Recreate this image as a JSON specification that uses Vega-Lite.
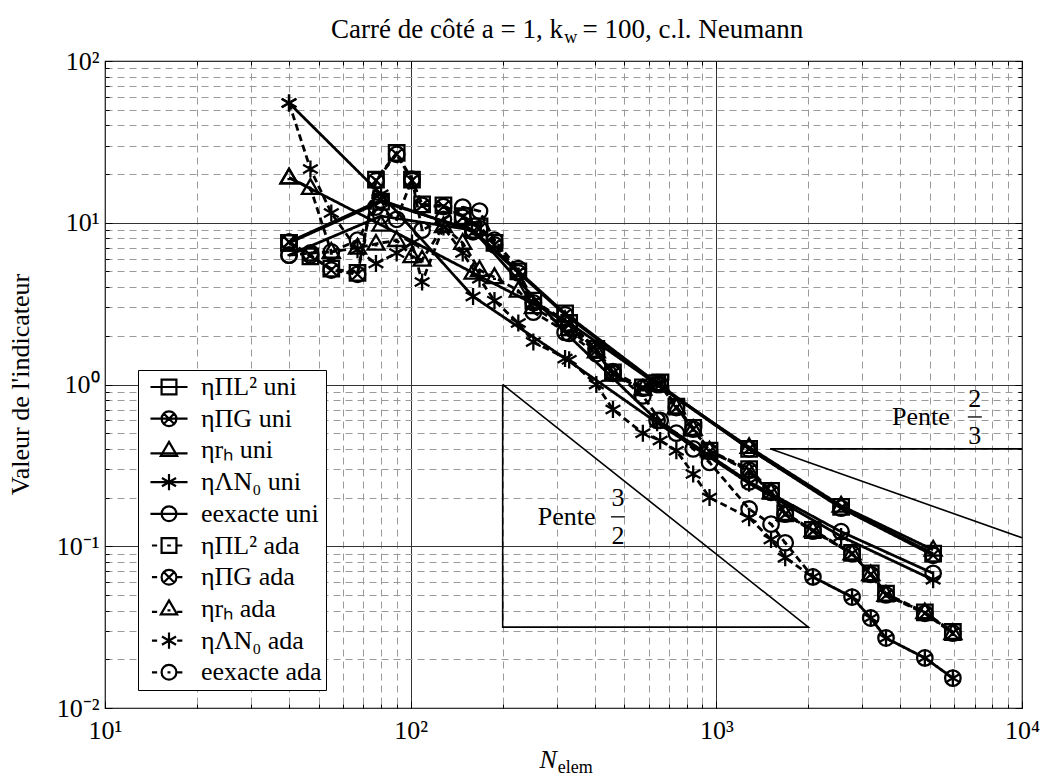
{
 "$schema": "https://vega.github.io/schema/vega-lite/v6.json",
 "width": 917, "height": 647,
 "autosize": {"type": "none"},
 "padding": {"left": 105, "top": 61, "right": 21, "bottom": 72},
 "background": "white",
 "config": {"view": {"stroke": "black", "strokeWidth": 1.2}, "font": "Liberation Serif", "legend": {"labelFont": "Liberation Serif"}},
 "datasets": {
  "series": [
   {"s":"ηΠL² uni","m":"uni","N":40,"v":7.5},{"s":"ηΠL² uni","m":"uni","N":80,"v":13.5},{"s":"ηΠL² uni","m":"uni","N":160,"v":9.0},{"s":"ηΠL² uni","m":"uni","N":320,"v":2.75},{"s":"ηΠL² uni","m":"uni","N":640,"v":1.02},{"s":"ηΠL² uni","m":"uni","N":1280,"v":0.40},{"s":"ηΠL² uni","m":"uni","N":2560,"v":0.175},{"s":"ηΠL² uni","m":"uni","N":5120,"v":0.090},
   {"s":"ηΠG uni","m":"uni","N":40,"v":7.6},{"s":"ηΠG uni","m":"uni","N":80,"v":13.8},{"s":"ηΠG uni","m":"uni","N":160,"v":8.8},{"s":"ηΠG uni","m":"uni","N":320,"v":2.7},{"s":"ηΠG uni","m":"uni","N":640,"v":1.0},{"s":"ηΠG uni","m":"uni","N":1280,"v":0.40},{"s":"ηΠG uni","m":"uni","N":2560,"v":0.172},{"s":"ηΠG uni","m":"uni","N":5120,"v":0.088},
   {"s":"ηrₕ uni","m":"uni","N":40,"v":19},{"s":"ηrₕ uni","m":"uni","N":80,"v":9.7},{"s":"ηrₕ uni","m":"uni","N":160,"v":4.9},{"s":"ηrₕ uni","m":"uni","N":320,"v":2.5},{"s":"ηrₕ uni","m":"uni","N":640,"v":1.0},{"s":"ηrₕ uni","m":"uni","N":1280,"v":0.41},{"s":"ηrₕ uni","m":"uni","N":2560,"v":0.178},{"s":"ηrₕ uni","m":"uni","N":5120,"v":0.095},
   {"s":"ηΛN₀ uni","m":"uni","N":40,"v":55},{"s":"ηΛN₀ uni","m":"uni","N":80,"v":15},{"s":"ηΛN₀ uni","m":"uni","N":160,"v":3.5},{"s":"ηΛN₀ uni","m":"uni","N":320,"v":1.45},{"s":"ηΛN₀ uni","m":"uni","N":640,"v":0.58},{"s":"ηΛN₀ uni","m":"uni","N":1280,"v":0.245},{"s":"ηΛN₀ uni","m":"uni","N":2560,"v":0.115},{"s":"ηΛN₀ uni","m":"uni","N":5120,"v":0.062},
   {"s":"eexacte uni","m":"uni","N":40,"v":6.3},{"s":"eexacte uni","m":"uni","N":80,"v":11},{"s":"eexacte uni","m":"uni","N":160,"v":9.0},{"s":"eexacte uni","m":"uni","N":320,"v":2.1},{"s":"eexacte uni","m":"uni","N":640,"v":0.60},{"s":"eexacte uni","m":"uni","N":1280,"v":0.25},{"s":"eexacte uni","m":"uni","N":2560,"v":0.123},{"s":"eexacte uni","m":"uni","N":5120,"v":0.068},

   {"s":"ηΠL² ada","m":"ada","N":40,"v":7.5},{"s":"ηΠL² ada","m":"ada","N":47,"v":6.2},{"s":"ηΠL² ada","m":"ada","N":55,"v":5.2},{"s":"ηΠL² ada","m":"ada","N":67,"v":4.9},{"s":"ηΠL² ada","m":"ada","N":77,"v":18.5},{"s":"ηΠL² ada","m":"ada","N":90,"v":27},{"s":"ηΠL² ada","m":"ada","N":101,"v":18.5},{"s":"ηΠL² ada","m":"ada","N":109,"v":13},{"s":"ηΠL² ada","m":"ada","N":128,"v":12.8},{"s":"ηΠL² ada","m":"ada","N":148,"v":11},{"s":"ηΠL² ada","m":"ada","N":168,"v":9.5},{"s":"ηΠL² ada","m":"ada","N":188,"v":7.5},{"s":"ηΠL² ada","m":"ada","N":225,"v":5.0},{"s":"ηΠL² ada","m":"ada","N":252,"v":3.3},{"s":"ηΠL² ada","m":"ada","N":330,"v":2.4},{"s":"ηΠL² ada","m":"ada","N":405,"v":1.66},{"s":"ηΠL² ada","m":"ada","N":459,"v":1.19},{"s":"ηΠL² ada","m":"ada","N":575,"v":0.96},{"s":"ηΠL² ada","m":"ada","N":655,"v":1.03},{"s":"ηΠL² ada","m":"ada","N":740,"v":0.73},{"s":"ηΠL² ada","m":"ada","N":840,"v":0.54},{"s":"ηΠL² ada","m":"ada","N":950,"v":0.39},{"s":"ηΠL² ada","m":"ada","N":1280,"v":0.30},{"s":"ηΠL² ada","m":"ada","N":1510,"v":0.22},{"s":"ηΠL² ada","m":"ada","N":1680,"v":0.16},{"s":"ηΠL² ada","m":"ada","N":2070,"v":0.126},{"s":"ηΠL² ada","m":"ada","N":2780,"v":0.091},{"s":"ηΠL² ada","m":"ada","N":3200,"v":0.068},{"s":"ηΠL² ada","m":"ada","N":3590,"v":0.051},{"s":"ηΠL² ada","m":"ada","N":4810,"v":0.039},{"s":"ηΠL² ada","m":"ada","N":5940,"v":0.0295},

   {"s":"ηΠG ada","m":"ada","N":40,"v":7.6},{"s":"ηΠG ada","m":"ada","N":47,"v":6.3},{"s":"ηΠG ada","m":"ada","N":55,"v":5.1},{"s":"ηΠG ada","m":"ada","N":67,"v":4.8},{"s":"ηΠG ada","m":"ada","N":77,"v":18.2},{"s":"ηΠG ada","m":"ada","N":90,"v":26.5},{"s":"ηΠG ada","m":"ada","N":101,"v":18.2},{"s":"ηΠG ada","m":"ada","N":109,"v":12.8},{"s":"ηΠG ada","m":"ada","N":128,"v":12.6},{"s":"ηΠG ada","m":"ada","N":148,"v":10.8},{"s":"ηΠG ada","m":"ada","N":168,"v":9.2},{"s":"ηΠG ada","m":"ada","N":188,"v":7.3},{"s":"ηΠG ada","m":"ada","N":225,"v":4.9},{"s":"ηΠG ada","m":"ada","N":252,"v":3.2},{"s":"ηΠG ada","m":"ada","N":330,"v":2.35},{"s":"ηΠG ada","m":"ada","N":405,"v":1.63},{"s":"ηΠG ada","m":"ada","N":459,"v":1.17},{"s":"ηΠG ada","m":"ada","N":575,"v":0.95},{"s":"ηΠG ada","m":"ada","N":655,"v":1.0},{"s":"ηΠG ada","m":"ada","N":740,"v":0.72},{"s":"ηΠG ada","m":"ada","N":840,"v":0.53},{"s":"ηΠG ada","m":"ada","N":950,"v":0.385},{"s":"ηΠG ada","m":"ada","N":1280,"v":0.295},{"s":"ηΠG ada","m":"ada","N":1510,"v":0.215},{"s":"ηΠG ada","m":"ada","N":1680,"v":0.158},{"s":"ηΠG ada","m":"ada","N":2070,"v":0.124},{"s":"ηΠG ada","m":"ada","N":2780,"v":0.09},{"s":"ηΠG ada","m":"ada","N":3200,"v":0.067},{"s":"ηΠG ada","m":"ada","N":3590,"v":0.05},{"s":"ηΠG ada","m":"ada","N":4810,"v":0.0385},{"s":"ηΠG ada","m":"ada","N":5940,"v":0.029},

   {"s":"ηrₕ ada","m":"ada","N":40,"v":19},{"s":"ηrₕ ada","m":"ada","N":47,"v":16.4},{"s":"ηrₕ ada","m":"ada","N":55,"v":6.6},{"s":"ηrₕ ada","m":"ada","N":67,"v":7.0},{"s":"ηrₕ ada","m":"ada","N":77,"v":7.4},{"s":"ηrₕ ada","m":"ada","N":90,"v":7.8},{"s":"ηrₕ ada","m":"ada","N":101,"v":6.2},{"s":"ηrₕ ada","m":"ada","N":109,"v":5.9},{"s":"ηrₕ ada","m":"ada","N":128,"v":9.5},{"s":"ηrₕ ada","m":"ada","N":148,"v":7.5},{"s":"ηrₕ ada","m":"ada","N":168,"v":5.1},{"s":"ηrₕ ada","m":"ada","N":188,"v":4.6},{"s":"ηrₕ ada","m":"ada","N":225,"v":3.8},{"s":"ηrₕ ada","m":"ada","N":252,"v":3.0},{"s":"ηrₕ ada","m":"ada","N":330,"v":2.2},{"s":"ηrₕ ada","m":"ada","N":405,"v":1.6},{"s":"ηrₕ ada","m":"ada","N":459,"v":1.15},{"s":"ηrₕ ada","m":"ada","N":575,"v":0.94},{"s":"ηrₕ ada","m":"ada","N":655,"v":1.0},{"s":"ηrₕ ada","m":"ada","N":740,"v":0.72},{"s":"ηrₕ ada","m":"ada","N":840,"v":0.53},{"s":"ηrₕ ada","m":"ada","N":950,"v":0.39},{"s":"ηrₕ ada","m":"ada","N":1280,"v":0.29},{"s":"ηrₕ ada","m":"ada","N":1510,"v":0.215},{"s":"ηrₕ ada","m":"ada","N":1680,"v":0.158},{"s":"ηrₕ ada","m":"ada","N":2070,"v":0.125},{"s":"ηrₕ ada","m":"ada","N":2780,"v":0.09},{"s":"ηrₕ ada","m":"ada","N":3200,"v":0.067},{"s":"ηrₕ ada","m":"ada","N":3590,"v":0.05},{"s":"ηrₕ ada","m":"ada","N":4810,"v":0.039},{"s":"ηrₕ ada","m":"ada","N":5940,"v":0.029},

   {"s":"ηΛN₀ ada","m":"ada","N":40,"v":55},{"s":"ηΛN₀ ada","m":"ada","N":47,"v":21.5},{"s":"ηΛN₀ ada","m":"ada","N":55,"v":11.5},{"s":"ηΛN₀ ada","m":"ada","N":67,"v":6.8},{"s":"ηΛN₀ ada","m":"ada","N":77,"v":5.6},{"s":"ηΛN₀ ada","m":"ada","N":90,"v":6.5},{"s":"ηΛN₀ ada","m":"ada","N":101,"v":7.5},{"s":"ηΛN₀ ada","m":"ada","N":109,"v":4.3},{"s":"ηΛN₀ ada","m":"ada","N":128,"v":9.4},{"s":"ηΛN₀ ada","m":"ada","N":148,"v":6.5},{"s":"ηΛN₀ ada","m":"ada","N":168,"v":4.5},{"s":"ηΛN₀ ada","m":"ada","N":188,"v":3.3},{"s":"ηΛN₀ ada","m":"ada","N":225,"v":2.4},{"s":"ηΛN₀ ada","m":"ada","N":252,"v":1.83},{"s":"ηΛN₀ ada","m":"ada","N":330,"v":1.42},{"s":"ηΛN₀ ada","m":"ada","N":405,"v":1.0},{"s":"ηΛN₀ ada","m":"ada","N":459,"v":0.70},{"s":"ηΛN₀ ada","m":"ada","N":575,"v":0.50},{"s":"ηΛN₀ ada","m":"ada","N":655,"v":0.45},{"s":"ηΛN₀ ada","m":"ada","N":740,"v":0.39},{"s":"ηΛN₀ ada","m":"ada","N":840,"v":0.28},{"s":"ηΛN₀ ada","m":"ada","N":950,"v":0.20},{"s":"ηΛN₀ ada","m":"ada","N":1280,"v":0.15},{"s":"ηΛN₀ ada","m":"ada","N":1510,"v":0.11},{"s":"ηΛN₀ ada","m":"ada","N":1680,"v":0.085},{"s":"ηΛN₀ ada","m":"ada","N":2070,"v":0.0646},{"s":"ηΛN₀ ada","m":"ada","N":2780,"v":0.0485},{"s":"ηΛN₀ ada","m":"ada","N":3200,"v":0.036},{"s":"ηΛN₀ ada","m":"ada","N":3590,"v":0.027},{"s":"ηΛN₀ ada","m":"ada","N":4810,"v":0.0204},{"s":"ηΛN₀ ada","m":"ada","N":5940,"v":0.0153},

   {"s":"eexacte ada","m":"ada","N":40,"v":6.3},{"s":"eexacte ada","m":"ada","N":47,"v":6.5},{"s":"eexacte ada","m":"ada","N":55,"v":6.6},{"s":"eexacte ada","m":"ada","N":67,"v":7.8},{"s":"eexacte ada","m":"ada","N":77,"v":12.5},{"s":"eexacte ada","m":"ada","N":90,"v":10.5},{"s":"eexacte ada","m":"ada","N":101,"v":18.6},{"s":"eexacte ada","m":"ada","N":109,"v":9.0},{"s":"eexacte ada","m":"ada","N":128,"v":10.5},{"s":"eexacte ada","m":"ada","N":148,"v":12.5},{"s":"eexacte ada","m":"ada","N":168,"v":11.8},{"s":"eexacte ada","m":"ada","N":188,"v":7.8},{"s":"eexacte ada","m":"ada","N":225,"v":5.2},{"s":"eexacte ada","m":"ada","N":252,"v":2.8},{"s":"eexacte ada","m":"ada","N":330,"v":2.07},{"s":"eexacte ada","m":"ada","N":405,"v":1.55},{"s":"eexacte ada","m":"ada","N":459,"v":1.2},{"s":"eexacte ada","m":"ada","N":575,"v":0.85},{"s":"eexacte ada","m":"ada","N":655,"v":0.6},{"s":"eexacte ada","m":"ada","N":740,"v":0.5},{"s":"eexacte ada","m":"ada","N":840,"v":0.4},{"s":"eexacte ada","m":"ada","N":950,"v":0.33},{"s":"eexacte ada","m":"ada","N":1280,"v":0.17},{"s":"eexacte ada","m":"ada","N":1510,"v":0.137},{"s":"eexacte ada","m":"ada","N":1680,"v":0.105},{"s":"eexacte ada","m":"ada","N":2070,"v":0.0646},{"s":"eexacte ada","m":"ada","N":2780,"v":0.0485},{"s":"eexacte ada","m":"ada","N":3200,"v":0.036},{"s":"eexacte ada","m":"ada","N":3590,"v":0.0271},{"s":"eexacte ada","m":"ada","N":4810,"v":0.0204},{"s":"eexacte ada","m":"ada","N":5940,"v":0.0153}
  ]
 },
 "resolve": {"axis": {"x": "independent", "y": "independent"}, "scale": {"shape": "independent"}},
 "layer": [
  {
   "data": {"name": "series"},
   "mark": {"type": "line", "color": "black", "strokeWidth": 2.8},
   "encoding": {
    "x": {"field": "N", "type": "quantitative", "scale": {"type": "log", "domain": [10, 10000], "nice": false},
     "axis": {"orient": "bottom", "title": null,
      "values": [10,20,30,40,50,60,70,80,90,100,200,300,400,500,600,700,800,900,1000,2000,3000,4000,5000,6000,7000,8000,9000,10000],
      "grid": true,
      "gridColor": {"condition": {"test": "abs(log(datum.value)/LN10 - round(log(datum.value)/LN10)) < 0.01", "value": "#333333"}, "value": "#9a9a9a"},
      "gridDash": {"condition": {"test": "abs(log(datum.value)/LN10 - round(log(datum.value)/LN10)) < 0.01", "value": []}, "value": [7, 5]},
      "gridWidth": 1,
      "tickColor": "black", "tickWidth": 1,
      "tickSize": {"condition": {"test": "abs(log(datum.value)/LN10 - round(log(datum.value)/LN10)) < 0.01", "value": -7}, "value": -4},
      "domain": false,
      "labelExpr": "abs(log(datum.value)/LN10 - round(log(datum.value)/LN10)) < 0.01 ? '10' + ['⁻²','⁻¹','⁰','¹','²','³','⁴'][round(log(datum.value)/LN10)+2] : ''",
      "labelFont": "Liberation Serif", "labelFontSize": 26, "labelColor": "black", "labelPadding": 16, "labelFlush": false, "labelOverlap": false}},
    "y": {"field": "v", "type": "quantitative", "scale": {"type": "log", "domain": [0.01, 100], "nice": false},
     "axis": {"orient": "left", "title": "Valeur de l'indicateur",
      "titleFont": "Liberation Serif", "titleFontSize": 26, "titleFontWeight": "normal", "titleColor": "black",
      "titleX": -85, "titleY": 323, "titleAngle": 270, "titleAlign": "center", "titleBaseline": "middle",
      "values": [0.01,0.02,0.03,0.04,0.05,0.06,0.07,0.08,0.09,0.1,0.2,0.3,0.4,0.5,0.6,0.7,0.8,0.9,1,2,3,4,5,6,7,8,9,10,20,30,40,50,60,70,80,90,100],
      "grid": true,
      "gridColor": {"condition": {"test": "abs(log(datum.value)/LN10 - round(log(datum.value)/LN10)) < 0.01", "value": "#333333"}, "value": "#9a9a9a"},
      "gridDash": {"condition": {"test": "abs(log(datum.value)/LN10 - round(log(datum.value)/LN10)) < 0.01", "value": []}, "value": [7, 5]},
      "gridWidth": 1,
      "tickColor": "black", "tickWidth": 1,
      "tickSize": {"condition": {"test": "abs(log(datum.value)/LN10 - round(log(datum.value)/LN10)) < 0.01", "value": -7}, "value": -4},
      "domain": false,
      "labelExpr": "abs(log(datum.value)/LN10 - round(log(datum.value)/LN10)) < 0.01 ? '10' + ['⁻²','⁻¹','⁰','¹','²','³','⁴'][round(log(datum.value)/LN10)+2] : ''",
      "labelFont": "Liberation Serif", "labelFontSize": 26, "labelColor": "black", "labelPadding": 13, "labelFlush": false, "labelOverlap": false}},
    "detail": {"field": "s", "type": "nominal"},
    "strokeDash": {"field": "m", "type": "nominal", "scale": {"domain": ["uni", "ada"], "range": [[1, 0], [7, 4]]}, "legend": null}
   }
  },
  {
   "data": {"name": "series"},
   "mark": {"type": "point", "filled": false, "color": "black", "strokeWidth": 2.3, "size": 240, "opacity": 1},
   "encoding": {
    "x": {"field": "N", "type": "quantitative", "scale": {"type": "log", "domain": [10, 10000], "nice": false}, "axis": null},
    "y": {"field": "v", "type": "quantitative", "scale": {"type": "log", "domain": [0.01, 100], "nice": false}, "axis": null},
    "shape": {"field": "s", "type": "nominal", "legend": null,
     "scale": {
      "domain": ["ηΠL² uni","ηΠG uni","ηrₕ uni","ηΛN₀ uni","eexacte uni","ηΠL² ada","ηΠG ada","ηrₕ ada","ηΛN₀ ada","eexacte ada"],
      "range": [
       "M-1,-1H1V1H-1Z",
       "M1,0A1,1,0,1,1,-1,0A1,1,0,1,1,1,0ZM-0.71,-0.71L0.71,0.71M-0.71,0.71L0.71,-0.71",
       "M0,-1.15L1.1,0.75H-1.1Z",
       "M0,-1.1V1.1M-0.95,-0.55L0.95,0.55M-0.95,0.55L0.95,-0.55",
       "M1,0A1,1,0,1,1,-1,0A1,1,0,1,1,1,0Z",
       "M-1,-1H1V1H-1ZM-0.25,0H0.25",
       "M1,0A1,1,0,1,1,-1,0A1,1,0,1,1,1,0ZM-0.71,-0.71L0.71,0.71M-0.71,0.71L0.71,-0.71",
       "M0,-1.15L1.1,0.75H-1.1ZM-0.2,0.2H0.2",
       "M0,-1.1V1.1M-0.95,-0.55L0.95,0.55M-0.95,0.55L0.95,-0.55",
       "M1,0A1,1,0,1,1,-1,0A1,1,0,1,1,1,0ZM-0.2,0H0.2"
      ]}
    }
   }
  },
  {
   "data": {"name": "series"},
   "mark": {"type": "point", "filled": false, "color": "black", "strokeWidth": 2.2, "size": 220, "opacity": 0},
   "encoding": {
    "x": {"field": "N", "type": "quantitative", "scale": {"type": "log", "domain": [10, 10000], "nice": false}, "axis": null},
    "y": {"field": "v", "type": "quantitative", "scale": {"type": "log", "domain": [0.01, 100], "nice": false}, "axis": null},
    "shape": {"field": "s", "type": "nominal",
     "scale": {
      "domain": ["ηΠL² uni","ηΠG uni","ηrₕ uni","ηΛN₀ uni","eexacte uni","ηΠL² ada","ηΠG ada","ηrₕ ada","ηΛN₀ ada","eexacte ada"],
      "range": [
       "M-2.5,0H2.5M-1,-1H1V1H-1Z",
       "M-2.5,0H2.5M1,0A1,1,0,1,1,-1,0A1,1,0,1,1,1,0ZM-0.71,-0.71L0.71,0.71M-0.71,0.71L0.71,-0.71",
       "M-2.5,0.4H2.5M0,-1.15L1.1,0.75H-1.1Z",
       "M-2.5,0H2.5M0,-1.1V1.1M-0.95,-0.55L0.95,0.55M-0.95,0.55L0.95,-0.55",
       "M-2.5,0H2.5M1,0A1,1,0,1,1,-1,0A1,1,0,1,1,1,0Z",
       "M-2.3,0H-1.6M1.1,0H1.8M-1,-1H1V1H-1ZM-0.25,0H0.25",
       "M-2.3,0H-1.6M1.1,0H1.8M1,0A1,1,0,1,1,-1,0A1,1,0,1,1,1,0ZM-0.71,-0.71L0.71,0.71M-0.71,0.71L0.71,-0.71",
       "M-2.3,0.4H-1.6M1.1,0.4H1.8M0,-1.15L1.1,0.75H-1.1ZM-0.2,0.2H0.2",
       "M-2.3,0H-1.6M1.1,0H1.8M0,-1.1V1.1M-0.95,-0.55L0.95,0.55M-0.95,0.55L0.95,-0.55",
       "M-2.3,0H-1.6M1.1,0H1.8M1,0A1,1,0,1,1,-1,0A1,1,0,1,1,1,0ZM-0.2,0H0.2"
      ]},
     "legend": {"orient": "none", "legendX": 33, "legendY": 309, "title": null,
      "fillColor": "white", "strokeColor": "black", "padding": 4, "cornerRadius": 0,
      "symbolSize": 220, "symbolStrokeWidth": 2.2, "symbolStrokeColor": "black", "symbolFillColor": "transparent", "symbolOpacity": 1,
      "labelFont": "Liberation Serif", "labelFontSize": 26, "labelColor": "black", "labelLimit": 300,
      "rowPadding": 5.7, "symbolOffset": 14, "labelOffset": 19}
    }
   }
  },
  {
   "data": {"values": [
    {"g":"p32","o":1,"N":200,"v":1},{"g":"p32","o":2,"N":200,"v":0.03162},{"g":"p32","o":3,"N":2000,"v":0.03162},{"g":"p32","o":4,"N":200,"v":1},
    {"g":"p23","o":1,"N":10000,"v":0.1129},{"g":"p23","o":2,"N":1500,"v":0.4},{"g":"p23","o":3,"N":10000,"v":0.4}
   ]},
   "mark": {"type": "line", "color": "black", "strokeWidth": 1.6},
   "encoding": {
    "x": {"field": "N", "type": "quantitative", "scale": {"type": "log", "domain": [10, 10000], "nice": false},
     "axis": {"orient": "top", "title": null, "labels": false, "grid": false, "domain": false,
      "values": [10,20,30,40,50,60,70,80,90,100,200,300,400,500,600,700,800,900,1000,2000,3000,4000,5000,6000,7000,8000,9000,10000],
      "tickColor": "black", "tickWidth": 1,
      "tickSize": {"condition": {"test": "abs(log(datum.value)/LN10 - round(log(datum.value)/LN10)) < 0.01", "value": -7}, "value": -4}}},
    "y": {"field": "v", "type": "quantitative", "scale": {"type": "log", "domain": [0.01, 100], "nice": false},
     "axis": {"orient": "right", "title": null, "labels": false, "grid": false, "domain": false,
      "values": [0.01,0.02,0.03,0.04,0.05,0.06,0.07,0.08,0.09,0.1,0.2,0.3,0.4,0.5,0.6,0.7,0.8,0.9,1,2,3,4,5,6,7,8,9,10,20,30,40,50,60,70,80,90,100],
      "tickColor": "black", "tickWidth": 1,
      "tickSize": {"condition": {"test": "abs(log(datum.value)/LN10 - round(log(datum.value)/LN10)) < 0.01", "value": -7}, "value": -4}}},
    "detail": {"field": "g", "type": "nominal"},
    "order": {"field": "o", "type": "quantitative"}
   }
  },
  {
   "data": {"values": [
    {"t":"Pente","N":324,"v":0.152},{"t":"3","N":477,"v":0.199},{"t":"2","N":477,"v":0.116},
    {"t":"Pente","N":4670,"v":0.63},{"t":"2","N":7010,"v":0.813},{"t":"3","N":7010,"v":0.481}
   ]},
   "mark": {"type": "text", "font": "Liberation Serif", "fontSize": 26, "color": "black", "align": "center", "baseline": "middle"},
   "encoding": {
    "x": {"field": "N", "type": "quantitative", "scale": {"type": "log", "domain": [10, 10000], "nice": false}, "axis": null},
    "y": {"field": "v", "type": "quantitative", "scale": {"type": "log", "domain": [0.01, 100], "nice": false}, "axis": null},
    "text": {"field": "t", "type": "nominal"}
   }
  },
  {
   "data": {"values": [{"N":452,"N2":502,"v":0.152},{"N":6650,"N2":7390,"v":0.63}]},
   "mark": {"type": "rule", "color": "black", "strokeWidth": 1.3},
   "encoding": {
    "x": {"field": "N", "type": "quantitative", "scale": {"type": "log", "domain": [10, 10000], "nice": false}, "axis": null},
    "x2": {"field": "N2"},
    "y": {"field": "v", "type": "quantitative", "scale": {"type": "log", "domain": [0.01, 100], "nice": false}, "axis": null}
   }
  },
  {
   "data": {"values": [{"t":"Carré de côté a = 1, k","N":315,"v":155.5}]},
   "mark": {"type": "text", "font": "Liberation Serif", "fontSize": 27, "color": "black", "align": "right", "baseline": "middle"},
   "encoding": {
    "x": {"field": "N", "type": "quantitative", "scale": {"type": "log", "domain": [10, 10000], "nice": false}, "axis": null},
    "y": {"field": "v", "type": "quantitative", "scale": {"type": "log", "domain": [0.01, 100], "nice": false}, "axis": null},
    "text": {"field": "t", "type": "nominal"}
   }
  },
  {
   "data": {"values": [{"t":"w","N":318,"v":139},{"t":"elem","N":303,"v":0.00426}]},
   "mark": {"type": "text", "font": "Liberation Serif", "fontSize": 18, "color": "black", "align": "left", "baseline": "middle"},
   "encoding": {
    "x": {"field": "N", "type": "quantitative", "scale": {"type": "log", "domain": [10, 10000], "nice": false}, "axis": null},
    "y": {"field": "v", "type": "quantitative", "scale": {"type": "log", "domain": [0.01, 100], "nice": false}, "axis": null},
    "text": {"field": "t", "type": "nominal"}
   }
  },
  {
   "data": {"values": [{"t":"= 100, c.l. Neumann","N":365,"v":155.5}]},
   "mark": {"type": "text", "font": "Liberation Serif", "fontSize": 27, "color": "black", "align": "left", "baseline": "middle"},
   "encoding": {
    "x": {"field": "N", "type": "quantitative", "scale": {"type": "log", "domain": [10, 10000], "nice": false}, "axis": null},
    "y": {"field": "v", "type": "quantitative", "scale": {"type": "log", "domain": [0.01, 100], "nice": false}, "axis": null},
    "text": {"field": "t", "type": "nominal"}
   }
  },
  {
   "data": {"values": [{"t":"N","N":301,"v":0.00477}]},
   "mark": {"type": "text", "font": "Liberation Serif", "fontSize": 26, "fontStyle": "italic", "color": "black", "align": "right", "baseline": "middle"},
   "encoding": {
    "x": {"field": "N", "type": "quantitative", "scale": {"type": "log", "domain": [10, 10000], "nice": false}, "axis": null},
    "y": {"field": "v", "type": "quantitative", "scale": {"type": "log", "domain": [0.01, 100], "nice": false}, "axis": null},
    "text": {"field": "t", "type": "nominal"}
   }
  }
 ]
}
